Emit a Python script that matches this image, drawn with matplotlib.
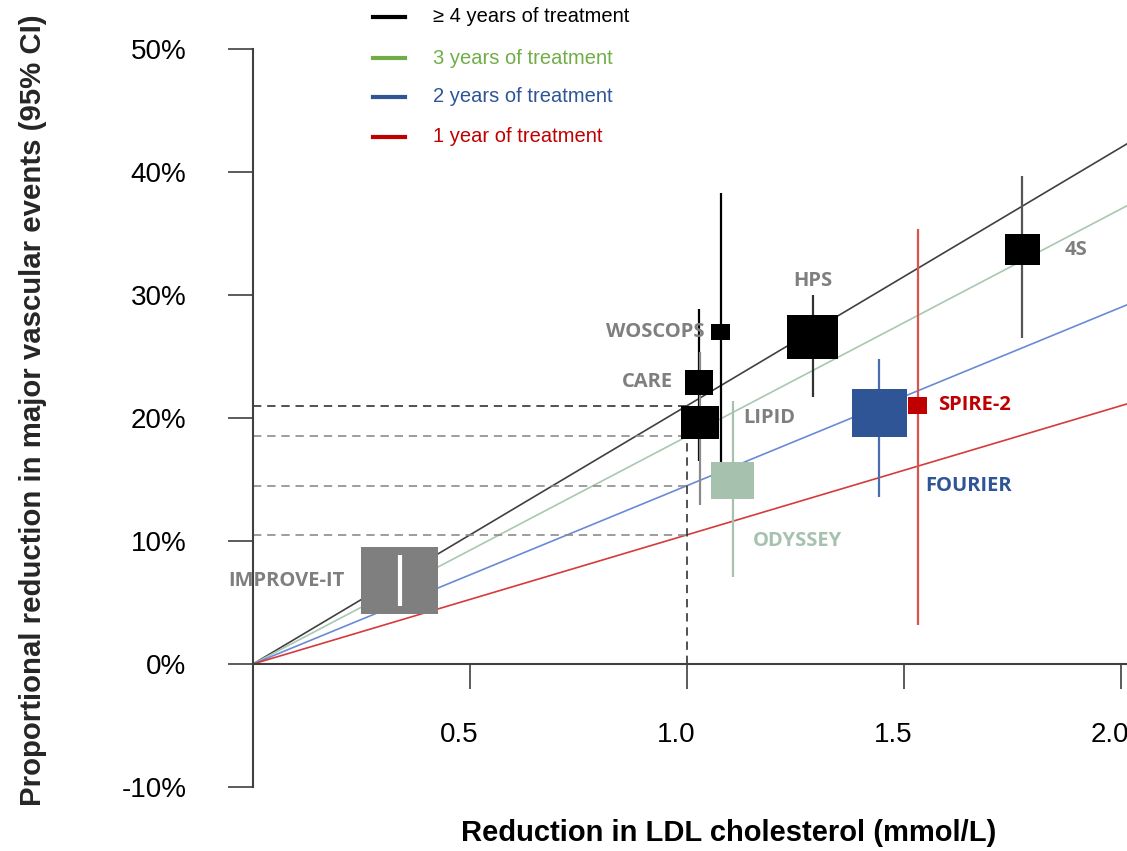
import numpy as np
import matplotlib
import matplotlib.pyplot as plt
import matplotlib.transforms as mtransforms
from matplotlib.path import Path
from matplotlib.lines import Line2D
from matplotlib import font_manager

matplotlib.rcParams.update({'font.family': ['Liberation Sans', 'DejaVu Sans']})

# trials: absolute LDL reduction (mmol/L) vs proportional reduction in events (%)
trials = ['IMPROVE-IT', 'CARE', 'LIPID', 'WOSCOPS', 'HPS', 'ODYSSEY', 'FOURIER', 'SPIRE-2', '4S']
ldl_drop = [0.338, 1.028, 1.030, 1.078, 1.290, 1.105, 1.443, 1.532, 1.772]
effect = [6.8, 22.9, 19.6, 27.0, 26.6, 14.9, 20.4, 21.0, 33.7]
ci_low = [4.7, 16.5, 12.9, 16.0, 21.7, 7.1, 13.6, 3.2, 26.5]
ci_high = [8.9, 28.9, 25.4, 38.3, 30.0, 21.4, 24.8, 35.4, 39.7]

# expected benefit per mmol/L by treatment duration
durations = ['\u2265 4 years of treatment', '3 years of treatment',
             '2 years of treatment', '1 year of treatment']
per_mmol = [21.0, 18.5, 14.5, 10.5]

# styling
box_px = [77, 28, 38, 19, 51, 43, 55, 19, 35]
box_col = ['#7f7f7f', 'black', 'black', 'black', 'black', '#a6c2af', '#2f5597', '#c00000', 'black']
ci_col = ['white', 'black', '#8a8a8a', 'black', '#333333', '#a6c2af', '#4a6db0', '#d9534f', '#555555']
lab_col = ['#7f7f7f'] * 5 + ['#a6c2af', '#2f5597', '#c00000', '#7f7f7f']
lab_off = [(-55, -1, 'right'), (-26, 0, 'right'), (43, 5, 'left'), (-16, 0, 'right'),
           (0, 56, 'center'), (20, -60, 'left'), (46, -73, 'left'), (20, 1, 'left'), (43, -1, 'left')]
fit_col = ['#404040', '#a9c8b0', '#6a8ad6', '#d63a3a']
leg_col = ['black', '#70ad47', '#2f5597', '#c00000']

W, H, DPI = 1127, 851, 100
fig = plt.figure(figsize=(W / DPI, H / DPI), dpi=DPI)
ax = fig.add_axes([253 / W, (H - 787) / H, (W - 253) / W, (787 - 49) / H])
ax.set_xlim(0, 874 / 434)
ax.set_ylim(-10, 50)

for s in ['top', 'right']:
    ax.spines[s].set_visible(False)
ax.spines['bottom'].set_position(('data', 0))
for s in ['left', 'bottom']:
    ax.spines[s].set_color('#404040')
    ax.spines[s].set_linewidth(1.5)

ax.set_yticks(np.arange(-10, 51, 10))
ax.set_yticklabels([f'{v}%' for v in range(-10, 51, 10)])
ax.set_xticks([0.5, 1.0, 1.5, 2.0])
ax.set_xticklabels(['0.5', '1.0', '1.5', '2.0'])
ax.tick_params(axis='y', direction='out', length=18, width=1.2, color='#404040',
               pad=30, labelsize=20)
ax.tick_params(axis='x', direction='out', length=18, width=1.2, color='#404040',
               pad=24, labelsize=20)
# x tick labels sit slightly left of their ticks
shift = mtransforms.ScaledTranslation(-11 / DPI, 0, fig.dpi_scale_trans)
for lbl in ax.get_xticklabels():
    lbl.set_transform(lbl.get_transform() + shift)

# reference lines through the origin
xs = np.array([0, 2.2])
for k, c in zip(per_mmol, fit_col):
    ax.plot(xs, k * xs, color=c, lw=1.2, zorder=1)

# dashed guides at 1 mmol/L
for i, k in enumerate(per_mmol):
    c = '#333333' if i == 0 else '#8c8c8c'
    ax.plot([0, 1.0], [k, k], color=c, lw=1.2, ls=(0, (5, 3.5)), zorder=1)
ax.plot([1.0, 1.0], [0, per_mmol[0]], color='#333333', lw=1.2, ls=(0, (5, 3.5)), zorder=1)

# confidence intervals and trial boxes
for i in range(len(trials)):
    ax.vlines(ldl_drop[i], ci_low[i], ci_high[i], colors=ci_col[i],
              lw=3 if ci_col[i] == 'white' else 1.6, zorder=4 if ci_col[i] == 'white' else 2)

box = Path([(-1.15, -1), (1.15, -1), (1.15, 1), (-1.15, 1), (-1.15, -1)],
           [Path.MOVETO, Path.LINETO, Path.LINETO, Path.LINETO, Path.CLOSEPOLY])
sizes = [(p * 72 / DPI) ** 2 for p in box_px]
ax.scatter(ldl_drop, effect, s=sizes, marker=box, c=box_col, linewidths=0, zorder=3)

for i, name in enumerate(trials):
    dx, dy, ha = lab_off[i]
    ax.annotate(name, (ldl_drop[i], effect[i]), xytext=(dx, dy), textcoords='offset pixels',
                ha=ha, va='center', fontsize=14.5, fontweight='bold', color=lab_col[i],
                family=['Open Sans', 'DejaVu Sans'], zorder=5)

# legend
for i, (txt, c) in enumerate(zip(durations, leg_col)):
    y = 1 - [17, 58, 97, 137][i] / H
    fig.add_artist(Line2D([373 / W, 405 / W], [y, y], color=c, lw=3))
    fig.text(433 / W, y, txt, color=c, fontsize=14.5, va='center', ha='left')

ax.set_xlabel('Reduction in LDL cholesterol (mmol/L)', fontsize=21, fontweight='bold', va='center')
ax.xaxis.set_label_coords(729 / W, (H - 833) / H, transform=fig.transFigure)

names = {f.name for f in font_manager.fontManager.ttflist}
yfam = 'Liberation Sans Narrow' if 'Liberation Sans Narrow' in names else 'Liberation Sans'
ylab = fig.text(33 / W, 1 - 410 / H, 'Proportional reduction in major vascular events (95% CI)',
                rotation=90, ha='center', va='center', fontweight='bold',
                family=yfam, fontsize=20, color='#262626')
r = fig.canvas.get_renderer()
h = ylab.get_window_extent(r).height
ylab.set_fontsize(20 * 790 / h)

fig.savefig('out.png', dpi=DPI)
